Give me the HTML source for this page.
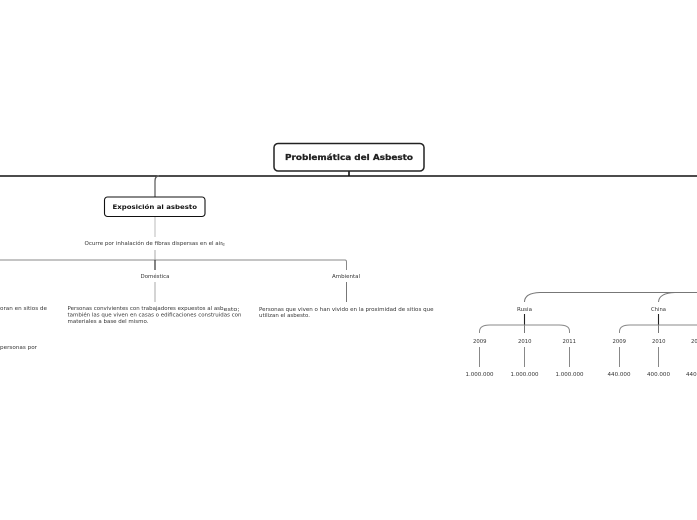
<!DOCTYPE html>
<html>
<head>
<meta charset="utf-8">
<style>
html,body{margin:0;padding:0;background:#fff;width:697px;height:520px;overflow:hidden}
svg{display:block}
text{font-family:"DejaVu Sans","Liberation Sans",sans-serif;fill:#333;font-size:5px}
.t{filter:blur(0.25px)}
</style>
</head>
<body>
<svg width="697" height="520" viewBox="0 0 697 520" xmlns="http://www.w3.org/2000/svg">
<g fill="none" stroke-linecap="butt">
  <!-- main axis -->
  <path d="M0 176H697" stroke="#111" stroke-width="1.6"/>
  <path d="M349 171V176" stroke="#111" stroke-width="1.6"/>
  <path d="M155 197V181Q155 176 159 176" stroke="#555" stroke-width="1.2"/>
  <!-- exposure branch -->
  <path d="M155 217V237" stroke="#bbb" stroke-width="1"/>
  <path d="M155 250V260" stroke="#aaa" stroke-width="1"/>
  <path d="M0 260H345Q346.500 260 346.500 262V270" stroke="#888" stroke-width="1"/>
  <path d="M155 260V270" stroke="#333" stroke-width="1.2"/>
  <path d="M155 282V302" stroke="#aaa" stroke-width="1"/>
  <path d="M346.500 282V302" stroke="#777" stroke-width="1"/>
  <!-- Rusia -->
  <path d="M697 292.500H540Q524.500 293 524.500 302" stroke="#777" stroke-width="1"/>
  <path d="M524.500 325V333" stroke="#777" stroke-width="1"/>
  <path d="M524.500 314V325" stroke="#222" stroke-width="1.100"/>
  <path d="M479.500 333V331Q480 325 490 325H559Q569.500 325 569.500 331V333" stroke="#888" stroke-width="1"/>
  <path d="M479.500 347V367M569.500 347V367M524.500 347V367" stroke="#888" stroke-width="1"/>
  <!-- China -->
  <path d="M697 292.500H675Q659 293 658.500 302" stroke="#777" stroke-width="1"/>
  <path d="M658.500 325V333" stroke="#777" stroke-width="1"/>
  <path d="M658.500 314V325" stroke="#222" stroke-width="1.100"/>
  <path d="M619.500 333V331Q620 325 630 325H697" stroke="#888" stroke-width="1"/>
  <path d="M619.500 347V367M658.500 347V367" stroke="#888" stroke-width="1"/>
</g>
<!-- boxes -->
<rect x="274" y="143.500" width="150" height="27.500" rx="4" fill="#fff" stroke="#222" stroke-width="1.500"/>
<rect x="104.500" y="197" width="100.500" height="19.500" rx="3" fill="#fff" stroke="#111" stroke-width="1.100"/>
<g class="t">
<!-- titles -->
<text x="285" y="160" textLength="128" lengthAdjust="spacingAndGlyphs" style="font-size:8.200px;font-weight:700;fill:#222;stroke:#222;stroke-width:.25px">Problemática del Asbesto</text>
<text x="112.500" y="209" textLength="84.500" lengthAdjust="spacingAndGlyphs" style="font-size:6.400px;font-weight:700;fill:#111">Exposición al asbesto</text>
<!-- small text -->
<text x="84.500" y="245" textLength="138" lengthAdjust="spacingAndGlyphs">Ocurre por inhalación de fibras dispersas en el air</text>
<text x="222" y="245.500" style="font-size:4.500px">e</text>
<text x="140.500" y="278" textLength="29" lengthAdjust="spacingAndGlyphs">Doméstica</text>
<text x="332" y="278" textLength="28" lengthAdjust="spacingAndGlyphs">Ambiental</text>

<text x="0" y="310" textLength="47" lengthAdjust="spacingAndGlyphs">oran en sitios de</text>
<text x="0" y="349" textLength="37" lengthAdjust="spacingAndGlyphs">personas por</text>

<text x="67.500" y="310" textLength="156" lengthAdjust="spacingAndGlyphs">Personas convivientes con trabajadores expuestos al asb</text>
<text x="223.500" y="311" textLength="16" lengthAdjust="spacingAndGlyphs">esto;</text>
<text x="67.500" y="316.500" textLength="174" lengthAdjust="spacingAndGlyphs">también las que viven en casas o edificaciones construidas con</text>
<text x="67.500" y="323" textLength="81" lengthAdjust="spacingAndGlyphs">materiales a base del mismo.</text>

<text x="259" y="311" textLength="174.500" lengthAdjust="spacingAndGlyphs">Personas que viven o han vivido en la proximidad de sitios que</text>
<text x="259" y="317" textLength="51" lengthAdjust="spacingAndGlyphs">utilizan el asbesto.</text>

<text x="517" y="311" textLength="15" lengthAdjust="spacingAndGlyphs">Rusia</text>
<text x="651" y="311" textLength="15" lengthAdjust="spacingAndGlyphs">China</text>

<text x="473" y="343" textLength="13.500" lengthAdjust="spacingAndGlyphs">2009</text>
<text x="518" y="343" textLength="13.500" lengthAdjust="spacingAndGlyphs">2010</text>
<text x="562.500" y="343" textLength="13.500" lengthAdjust="spacingAndGlyphs">2011</text>
<text x="612.500" y="343" textLength="13.500" lengthAdjust="spacingAndGlyphs">2009</text>
<text x="652" y="343" textLength="13.500" lengthAdjust="spacingAndGlyphs">2010</text>
<text x="691" y="343" textLength="13.500" lengthAdjust="spacingAndGlyphs">2011</text>

<text x="465.500" y="376" textLength="28" lengthAdjust="spacingAndGlyphs">1.000.000</text>
<text x="510.500" y="376" textLength="28" lengthAdjust="spacingAndGlyphs">1.000.000</text>
<text x="555.500" y="376" textLength="28" lengthAdjust="spacingAndGlyphs">1.000.000</text>
<text x="607.500" y="376" textLength="23" lengthAdjust="spacingAndGlyphs">440.000</text>
<text x="647" y="376" textLength="23" lengthAdjust="spacingAndGlyphs">400.000</text>
<text x="686" y="376" textLength="23" lengthAdjust="spacingAndGlyphs">440.000</text>
</g>
</svg>
</body>
</html>
